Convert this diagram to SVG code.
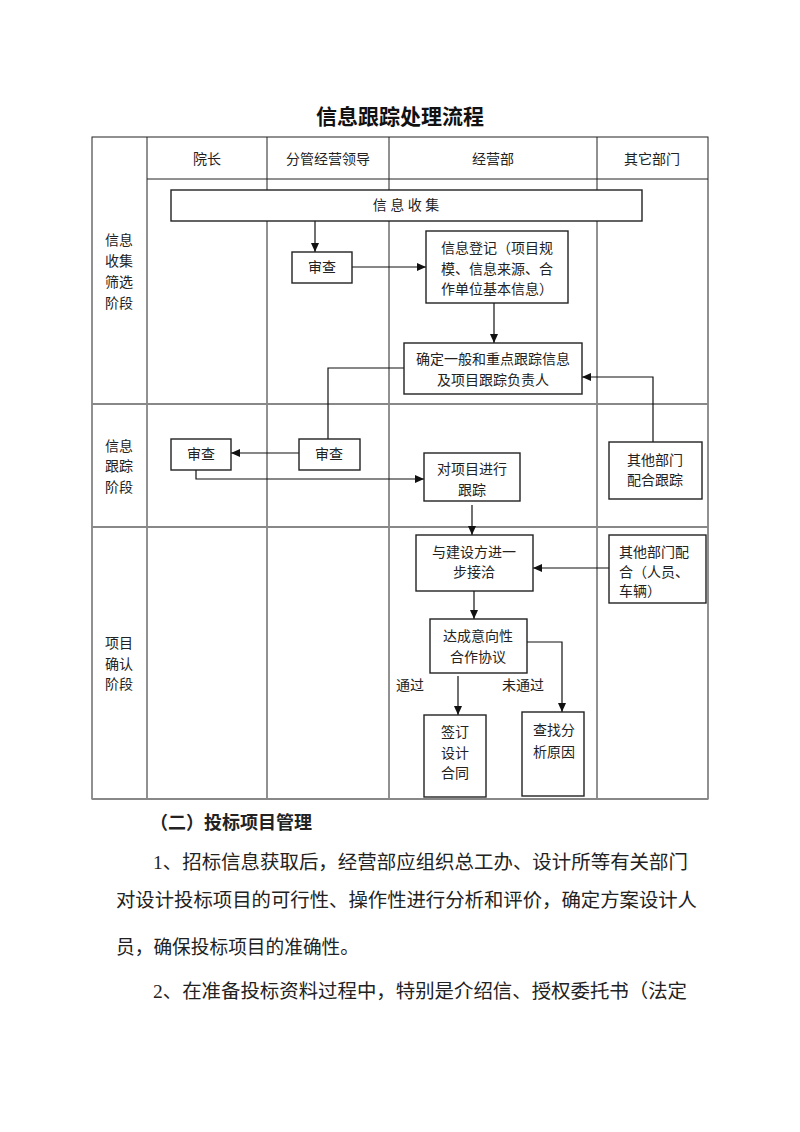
<svg xmlns="http://www.w3.org/2000/svg" width="800" height="1132" viewBox="0 0 800 1132">
<defs>
<style>
.t{font-family:"Liberation Serif","Noto Sans CJK SC",serif;font-size:14px;fill:#222}
.c{text-anchor:middle}
.box{fill:#fff;stroke:#222;stroke-width:1.4}
.grid{stroke:#222;stroke-width:1;fill:none}
.row{stroke:#888;stroke-width:2;fill:none}
.ln{stroke:#111;stroke-width:1.2;fill:none}
.ar{marker-end:url(#ah)}
.body{font-family:"Liberation Serif","Noto Sans CJK SC",serif;font-size:19px;fill:#222}
</style>
<marker id="ah" markerUnits="userSpaceOnUse" markerWidth="9" markerHeight="8" refX="9" refY="4" orient="auto">
<path d="M0,0 L9,4 L0,8 z" fill="#111"/>
</marker>
</defs>
<rect width="800" height="1132" fill="#fff"/>
<text x="400" y="124" text-anchor="middle" style="font-family:'Noto Sans CJK SC',sans-serif;font-size:21px;font-weight:bold;fill:#111">信息跟踪处理流程</text>
<g id="table">
<rect x="92" y="137" width="616" height="662" class="grid"/>
<line x1="147" y1="137" x2="147" y2="799" class="grid"/>
<line x1="267" y1="137" x2="267" y2="799" class="grid"/>
<line x1="389" y1="137" x2="389" y2="799" class="grid"/>
<line x1="597" y1="137" x2="597" y2="799" class="grid"/>
<line x1="147" y1="179" x2="708" y2="179" class="grid"/>
<line x1="92" y1="404" x2="708" y2="404" class="row"/>
<line x1="92" y1="527" x2="708" y2="527" class="row"/>
<line x1="92" y1="799" x2="708" y2="799" class="row"/>
<text x="207" y="164" class="t c">院长</text>
<text x="328" y="164" class="t c">分管经营领导</text>
<text x="493" y="164" class="t c">经营部</text>
<text x="652" y="164" class="t c">其它部门</text>
<text x="119" y="245" class="t c">信息</text>
<text x="119" y="266" class="t c">收集</text>
<text x="119" y="287" class="t c">筛选</text>
<text x="119" y="308" class="t c">阶段</text>
<text x="119" y="451" class="t c">信息</text>
<text x="119" y="471" class="t c">跟踪</text>
<text x="119" y="492" class="t c">阶段</text>
<text x="119" y="648" class="t c">项目</text>
<text x="119" y="669" class="t c">确认</text>
<text x="119" y="689" class="t c">阶段</text>
</g>
<g id="connectors">
<line x1="315" y1="221" x2="315" y2="252" class="ln ar"/>
<line x1="352" y1="267" x2="426" y2="267" class="ln ar"/>
<line x1="494" y1="303" x2="494" y2="343" class="ln ar"/>
<polyline points="404,368 328,368 328,439" class="ln"/>
<polyline points="653,442 653,377 582,377" class="ln ar"/>
<line x1="299" y1="453" x2="231" y2="453" class="ln ar"/>
<polyline points="196,470 196,479 424,479" class="ln ar"/>
<line x1="472" y1="505" x2="472" y2="535" class="ln ar"/>
<line x1="609" y1="568" x2="533" y2="568" class="ln ar"/>
<line x1="474" y1="591" x2="474" y2="619" class="ln ar"/>
<line x1="458" y1="676" x2="458" y2="715" class="ln ar"/>
<polyline points="527,642 562,642 562,712" class="ln ar"/>
<text x="410" y="690" class="t c">通过</text>
<text x="523" y="690" class="t c">未通过</text>
</g>
<g id="n_collect"><rect x="171" y="190" width="471" height="31" class="box"/><text x="406" y="210" class="t c">信 息 收 集</text></g>
<g id="n_review_vp1"><rect x="292" y="252" width="60" height="31" class="box"/><text x="322" y="272" class="t c">审查</text></g>
<g id="n_register"><rect x="426" y="231" width="142" height="72" class="box"/>
<text x="441" y="253" class="t">信息登记（项目规</text>
<text x="441" y="274" class="t">模、信息来源、合</text>
<text x="441" y="294" class="t">作单位基本信息）</text></g>
<g id="n_determine"><rect x="404" y="343" width="178" height="51" class="box"/>
<text x="493" y="364" class="t c">确定一般和重点跟踪信息</text>
<text x="493" y="385" class="t c">及项目跟踪负责人</text></g>
<g id="n_review_dean"><rect x="171" y="439" width="60" height="31" class="box"/><text x="201" y="459" class="t c">审查</text></g>
<g id="n_review_vp2"><rect x="299" y="439" width="61" height="31" class="box"/><text x="329" y="459" class="t c">审查</text></g>
<g id="n_track"><rect x="424" y="453" width="96" height="48" class="box"/>
<text x="472" y="474" class="t c">对项目进行</text>
<text x="472" y="495" class="t c">跟踪</text></g>
<g id="n_other_track"><rect x="609" y="442" width="93" height="57" class="box"/>
<text x="655" y="465" class="t c">其他部门</text>
<text x="655" y="485" class="t c">配合跟踪</text></g>
<g id="n_negotiate"><rect x="416" y="535" width="117" height="56" class="box"/>
<text x="474" y="557" class="t c">与建设方进一</text>
<text x="474" y="577" class="t c">步接洽</text></g>
<g id="n_other_support"><rect x="609" y="535" width="97" height="68" class="box"/>
<text x="619" y="557" class="t">其他部门配</text>
<text x="619" y="577" class="t">合（人员、</text>
<text x="619" y="596" class="t">车辆）</text></g>
<g id="n_agree"><rect x="430" y="619" width="97" height="54" class="box"/>
<text x="478" y="641" class="t c">达成意向性</text>
<text x="478" y="662" class="t c">合作协议</text></g>
<g id="n_sign"><rect x="424" y="715" width="62" height="82" class="box"/>
<text x="455" y="737" class="t c">签订</text>
<text x="455" y="758" class="t c">设计</text>
<text x="455" y="778" class="t c">合同</text></g>
<g id="n_analyze"><rect x="522" y="712" width="62" height="84" class="box"/>
<text x="533" y="735" class="t">查找分</text>
<text x="533" y="757" class="t">析原因</text></g>
<g id="body">
<text x="150" y="829" class="body" style="font-weight:bold;font-size:18px;font-family:'Noto Sans CJK SC',sans-serif">（二）投标项目管理</text>
<text x="153" y="869" class="body" textLength="535" lengthAdjust="spacingAndGlyphs">1、招标信息获取后，经营部应组织总工办、设计所等有关部门</text>
<text x="116" y="907" class="body" textLength="581" lengthAdjust="spacingAndGlyphs">对设计投标项目的可行性、操作性进行分析和评价，确定方案设计人</text>
<text x="116" y="954" class="body" textLength="243" lengthAdjust="spacingAndGlyphs">员，确保投标项目的准确性。</text>
<text x="153" y="998" class="body" textLength="534" lengthAdjust="spacingAndGlyphs">2、在准备投标资料过程中，特别是介绍信、授权委托书（法定</text>
</g>
</svg>
